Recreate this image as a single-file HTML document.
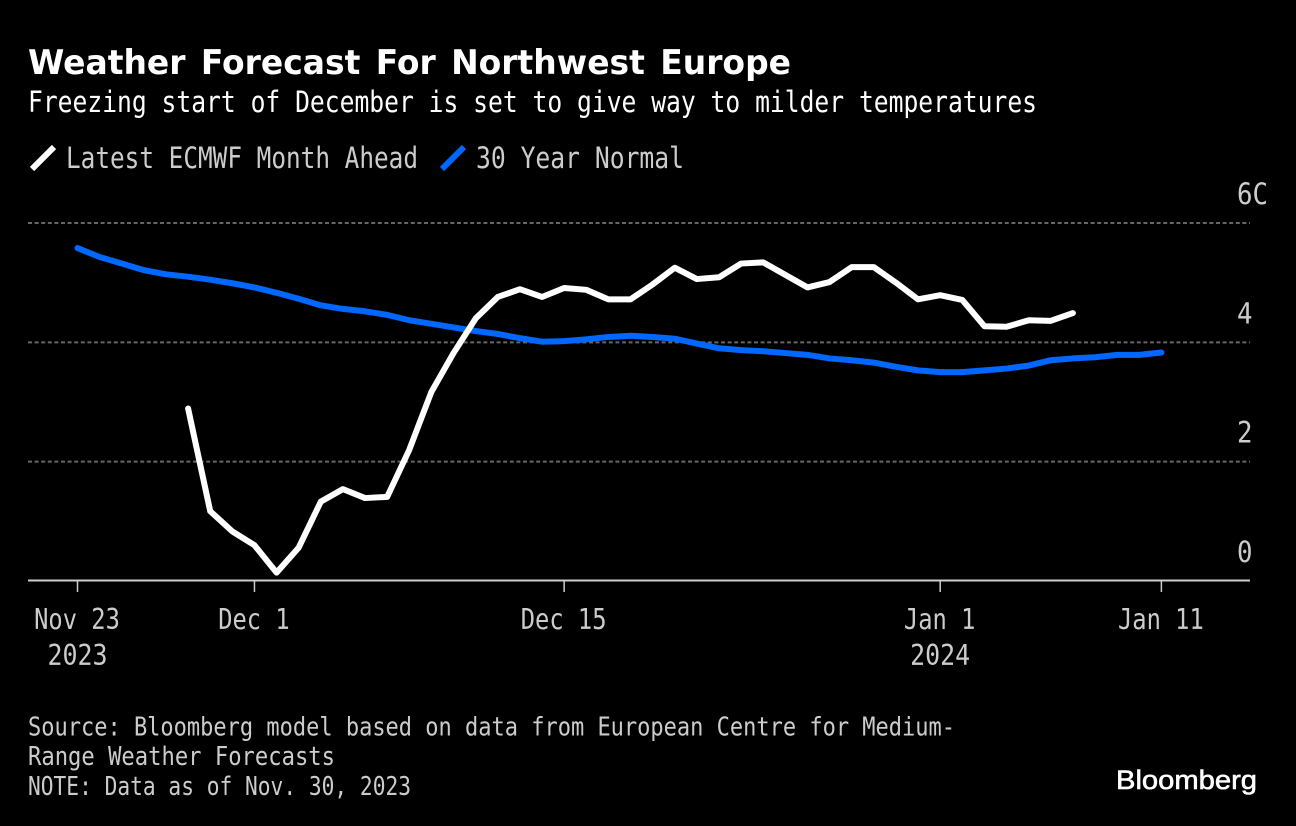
<!DOCTYPE html>
<html lang="en">
<head>
<meta charset="utf-8">
<title>Weather Forecast For Northwest Europe</title>
<style>
html,body{margin:0;padding:0;background:#000;width:1296px;height:826px;overflow:hidden}
svg{display:block}
text{font-family:"DejaVu Sans Mono","Liberation Mono",monospace}
</style>
</head>
<body>
<svg id="chart" width="1296" height="826" viewBox="0 0 1296 826" xmlns="http://www.w3.org/2000/svg">
  <rect x="0" y="0" width="1296" height="826" fill="#000"/>
  <text x="28" y="74" fill="#fff" font-size="34" font-weight="700" style="font-family:'DejaVu Sans',sans-serif;word-spacing:4px" textLength="763" lengthAdjust="spacingAndGlyphs">Weather Forecast For Northwest Europe</text>
  <text x="28" y="112" fill="#fff" font-size="29.5" textLength="1009" lengthAdjust="spacingAndGlyphs">Freezing start of December is set to give way to milder temperatures</text>

  <g>
    <line x1="32" y1="169" x2="54" y2="147" stroke="#fff" stroke-width="6"/>
    <text x="66" y="168" fill="#ccc" font-size="29.5" textLength="352" lengthAdjust="spacingAndGlyphs">Latest ECMWF Month Ahead</text>
    <line x1="442" y1="169" x2="464" y2="147" stroke="#0068ff" stroke-width="6"/>
    <text x="476" y="168" fill="#ccc" font-size="29.5" textLength="208" lengthAdjust="spacingAndGlyphs">30 Year Normal</text>
  </g>

  <g id="grid"></g>
  <g id="yLabels"></g>
  <g id="xAxis"></g>
  <g id="series"></g>

  <g fill="#ccc" font-size="26">
    <text x="28" y="735.5" textLength="927" lengthAdjust="spacingAndGlyphs">Source: Bloomberg model based on data from European Centre for Medium-</text>
    <text x="28" y="765" textLength="307" lengthAdjust="spacingAndGlyphs">Range Weather Forecasts</text>
    <text x="28" y="795" textLength="383" lengthAdjust="spacingAndGlyphs">NOTE: Data as of Nov. 30, 2023</text>
  </g>
  <text x="1116" y="789" fill="#fff" stroke="#fff" stroke-width="0.6" font-size="27" style="font-family:'Liberation Sans',sans-serif" textLength="141" lengthAdjust="spacingAndGlyphs">Bloomberg</text>
</svg>
<script>
const normalValues = [5.58,5.43,5.32,5.21,5.14,5.10,5.05,4.99,4.92,4.83,4.73,4.62,4.56,4.52,4.46,4.37,4.31,4.25,4.19,4.14,4.07,4.01,4.02,4.05,4.09,4.11,4.09,4.06,3.98,3.90,3.87,3.85,3.82,3.79,3.73,3.70,3.66,3.59,3.53,3.50,3.50,3.53,3.56,3.61,3.70,3.73,3.75,3.79,3.79,3.83];
const forecastStartDay = 5;
const forecastValues = [2.89,1.17,0.83,0.60,0.14,0.56,1.33,1.54,1.39,1.41,2.20,3.17,3.82,4.40,4.76,4.89,4.76,4.91,4.88,4.72,4.72,4.97,5.25,5.06,5.09,5.32,5.34,5.13,4.92,5.01,5.26,5.26,5.00,4.72,4.79,4.71,4.27,4.26,4.37,4.36,4.49];
const yTickValues = [0,2,4,6];
const yTickLabels = ["0","2","4","6C"];
const xTickDays = [0,8,22,39,49];
const xTickLabels = ["Nov 23","Dec 1","Dec 15","Jan 1","Jan 11"];
const xTickYears = ["2023","","","2024",""];

const NS = "http://www.w3.org/2000/svg";
function xScale(day){ return 77.5 + 22.12 * day; }
function yScale(v){ return 581 - 59.67 * v; }
function mk(tag, attrs, parent){
  const el = document.createElementNS(NS, tag);
  for (const k in attrs) el.setAttribute(k, attrs[k]);
  parent.appendChild(el);
  return el;
}
const grid = document.getElementById("grid");
const yLabels = document.getElementById("yLabels");
const xAxis = document.getElementById("xAxis");
const series = document.getElementById("series");

yTickValues.forEach(function(v, i){
  if (v !== 0) {
    const g = mk("line", {x1:28, x2:1250, y1:yScale(v), y2:yScale(v), stroke:"#666", "stroke-width":2, "stroke-dasharray":"4 2.6"}, grid);
    
    
  }
  const t = mk("text", {x:1237, y:yScale(v) - 19, fill:"#ccc", "font-size":29.5, textLength:yTickLabels[i].length * 15.5, lengthAdjust:"spacingAndGlyphs"}, yLabels);
  t.textContent = yTickLabels[i];
  
  
});

const axisLine = mk("line", {x1:28, x2:1250, y1:yScale(0) - 0.5, y2:yScale(0) - 0.5, stroke:"#ccc", "stroke-width":2}, xAxis);



xTickDays.forEach(function(d, i){
  const px = xScale(d);
  const tick = mk("line", {x1:px, x2:px, y1:yScale(0) - 0.5, y2:592, stroke:"#ccc", "stroke-width":1.5}, xAxis);
  
  
  const t = mk("text", {x:px - 0.5, y:629, fill:"#ccc", "font-size":28.5, "text-anchor":"middle", textLength:xTickLabels[i].length * 14.3, lengthAdjust:"spacingAndGlyphs"}, xAxis);
  t.textContent = xTickLabels[i];
  
  
  if (xTickYears[i]) {
    const y = mk("text", {x:px, y:665, fill:"#ccc", "font-size":28.5, "text-anchor":"middle", textLength:xTickYears[i].length * 15, lengthAdjust:"spacingAndGlyphs"}, xAxis);
    y.textContent = xTickYears[i];
    
    
  }
});

function linePoints(values, startDay){
  return values.map(function(v, i){
    return xScale(startDay + i).toFixed(2) + "," + yScale(v).toFixed(2);
  }).join(" ");
}
const normalLine = mk("polyline", {points:linePoints(normalValues, 0), fill:"none", stroke:"#0068ff", "stroke-width":6, "stroke-linejoin":"round", "stroke-linecap":"round"}, series);


const forecastLine = mk("polyline", {points:linePoints(forecastValues, forecastStartDay), fill:"none", stroke:"#fff", "stroke-width":6, "stroke-linejoin":"round", "stroke-linecap":"round"}, series);


</script>
</body>
</html>
